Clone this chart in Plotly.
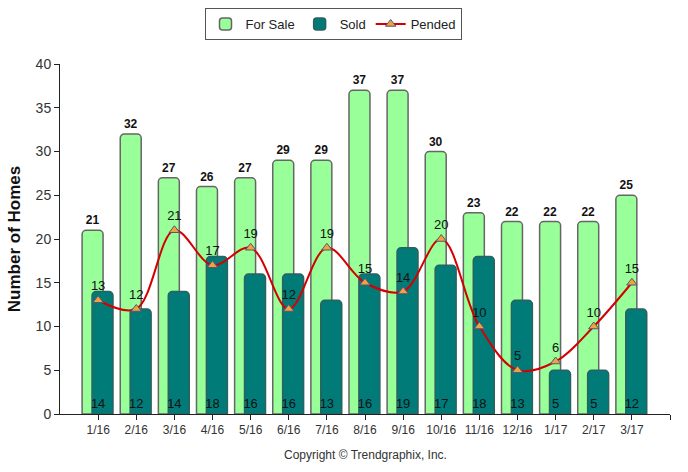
import plotly.graph_objects as go

months = ["1/16", "2/16", "3/16", "4/16", "5/16", "6/16", "7/16", "8/16",
          "9/16", "10/16", "11/16", "12/16", "1/17", "2/17", "3/17"]
for_sale = [21, 32, 27, 26, 27, 29, 29, 37, 37, 30, 23, 22, 22, 22, 25]
sold = [14, 12, 14, 18, 16, 16, 13, 16, 19, 17, 18, 13, 5, 5, 12]
pended = [13, 12, 21, 17, 19, 12, 19, 15, 14, 20, 10, 5, 6, 10, 15]

FONT = "Liberation Sans, Arial, sans-serif"
idx = list(range(len(months)))

fig = go.Figure()
fig.add_trace(go.Bar(
    x=idx, y=for_sale, name="For Sale",
    marker=dict(color="#99FF99", line=dict(color="#666666", width=1.5)),
    offset=-0.42, width=0.55,
    text=[str(v) for v in for_sale], textposition="outside",
    textfont=dict(family=FONT, size=12, color="#111111", weight="bold"),
    cliponaxis=False,
))
fig.add_trace(go.Bar(
    x=idx, y=sold, name="Sold",
    marker=dict(color="#007B78", line=dict(color="#2f6060", width=1.5)),
    offset=-0.16, width=0.55,
))
fig.add_trace(go.Scatter(
    x=idx, y=[1.1] * len(sold), mode="text", showlegend=False,
    text=[str(v) for v in sold], textposition="middle center",
    textfont=dict(family=FONT, size=13, color="#111111"),
    cliponaxis=False,
))
fig.add_trace(go.Scatter(
    x=idx, y=pended, name="Pended", mode="lines+markers+text",
    line=dict(color="#D40000", width=2, shape="spline", smoothing=1),
    marker=dict(symbol="triangle-up", size=9, color="#F2A23C",
                line=dict(color="#555577", width=1)),
    text=[str(v) for v in pended], textposition="top center",
    textfont=dict(family=FONT, size=13, color="#111111"),
    cliponaxis=False,
))

fig.update_layout(
    width=688, height=472,
    margin=dict(l=60, r=18, t=64, b=58, autoexpand=False),
    paper_bgcolor="white", plot_bgcolor="white",
    barmode="overlay", barcornerradius=4,
    font=dict(family=FONT, size=12, color="#333333"),
    showlegend=True,
    legend=dict(orientation="h", x=333 / 688, y=0.983, xanchor="center", yanchor="top",
                xref="container", yref="container",
                bordercolor="#555555", borderwidth=1, bgcolor="white",
                font=dict(family=FONT, size=13, color="#222222"),
                traceorder="normal"),
    xaxis=dict(
        range=[-1, 15], tickmode="array", tickvals=idx + [15],
        ticktext=months + [""], showline=True, linecolor="#222222",
        ticks="outside", ticklen=5, tickcolor="#222222", showgrid=False,
        zeroline=False, tickfont=dict(size=12, color="#333333"),
    ),
    yaxis=dict(
        range=[0, 40], dtick=5, showline=True, linecolor="#222222",
        ticks="outside", ticklen=5, tickcolor="#222222", showgrid=False,
        zeroline=False, tickfont=dict(size=14, color="#333333"),
        title=dict(text="Number of Homes", standoff=10,
                   font=dict(family=FONT, size=17, color="#111111", weight="bold")),
    ),
    annotations=[dict(
        text="Copyright \u00a9 Trendgraphix, Inc.", xref="paper", yref="paper",
        x=0.5, y=-0.117, xanchor="center", yanchor="middle", showarrow=False,
        font=dict(family=FONT, size=12, color="#333333"),
    )],
)

fig.write_html("out.html", config={"displayModeBar": False},
               post_script="document.body.style.margin='0';document.body.style.overflow='hidden';")
